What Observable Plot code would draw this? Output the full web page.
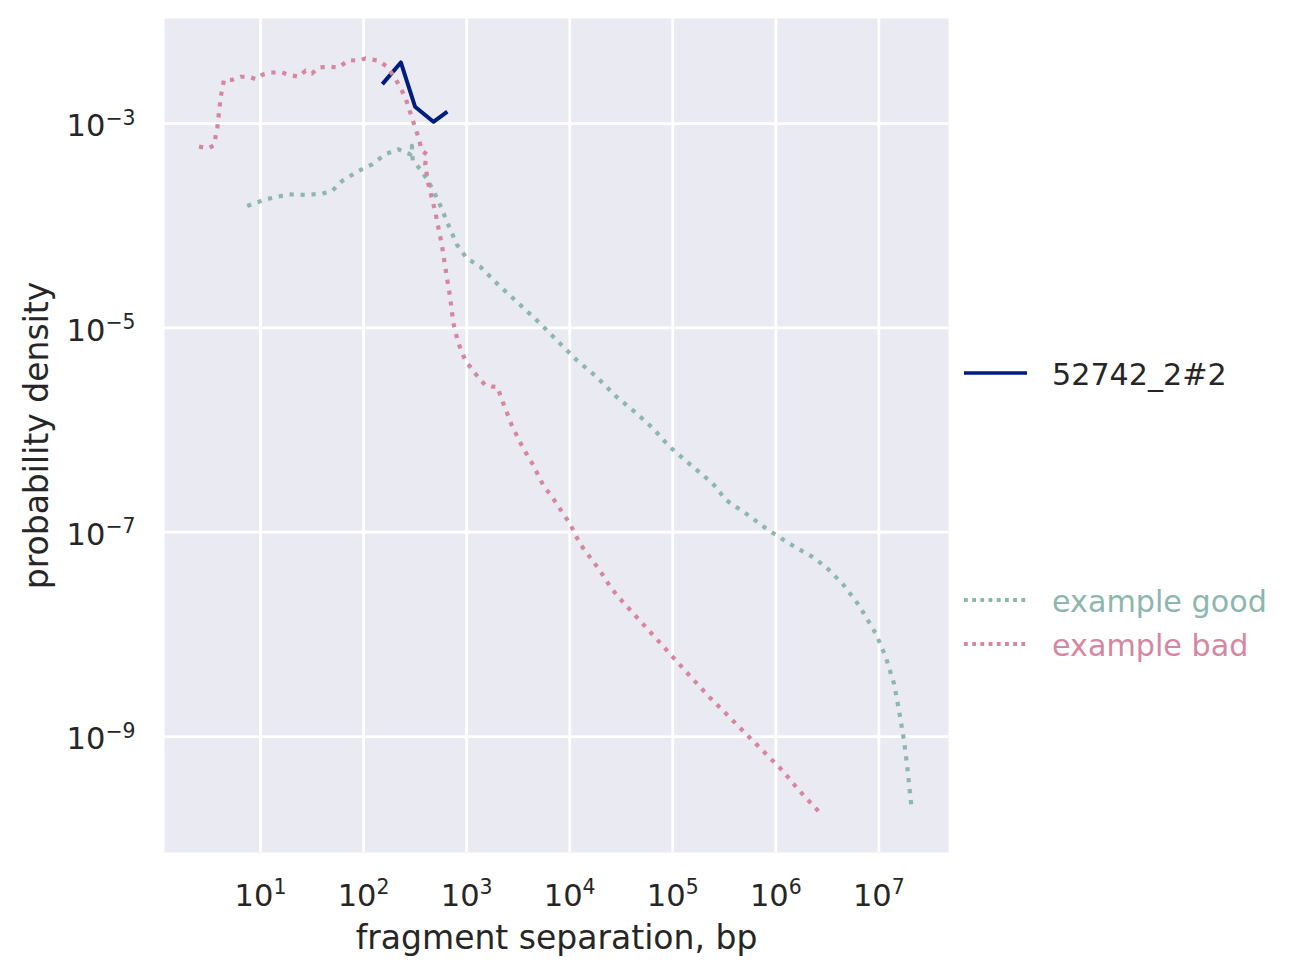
<!DOCTYPE html>
<html>
<head>
<meta charset="utf-8">
<script src="https://cdn.jsdelivr.net/npm/d3@7"></script>
<script src="https://cdn.jsdelivr.net/npm/@observablehq/plot@0.6"></script>
<style>
  body { margin: 0; background: #ffffff; font-family: "DejaVu Sans", sans-serif; }
  #wrap { position: relative; width: 1295px; height: 976px; }
</style>
</head>
<body>
<div id="wrap"></div>
<script>
// ---- data ----
const sampleX = [152, 230, 316, 476, 650];
const sampleY = [2.43e-3, 3.96e-3, 1.46e-3, 1.04e-3, 1.31e-3];

const goodX = [7.43, 11.2, 18.8, 27.3, 39.6, 49.4, 61.8, 89.5, 121, 162,
  218, 254, 285, 294, 300, 367, 459, 532, 641, 802,
  1002, 1349, 1954, 3055, 5140, 7450, 11640, 18200, 28380, 44360,
  64270, 93100, 156700, 244500, 329600, 515000, 803500, 1352000, 2270000, 3062000,
  4436000, 6427000, 9333000, 11670000, 14030000, 15700000, 17540000, 18880000, 20650000];
const goodY = [1.56e-4, 1.81e-4, 2.03e-4, 2.00e-4, 2.06e-4, 2.19e-4, 2.74e-4, 3.44e-4, 3.99e-4, 5.00e-4,
  5.60e-4, 5.20e-4, 5.0e-4, 6.04e-4, 4.31e-4, 3.44e-4, 2.36e-4, 1.75e-4, 1.11e-4, 6.56e-5,
  4.82e-5, 3.99e-5, 2.74e-5, 1.81e-5, 1.11e-5, 7.62e-6, 4.85e-6, 3.33e-6, 2.12e-6, 1.46e-6,
  1.04e-6, 6.86e-7, 4.37e-7, 3.00e-7, 2.06e-7, 1.52e-7, 1.09e-7, 7.74e-8, 5.73e-8, 4.57e-8,
  3.14e-8, 1.92e-8, 1.02e-8, 6.00e-9, 3.29e-9, 1.80e-9, 9.14e-10, 5.00e-10, 2.11e-10];

const badX = [2.53, 3.12, 3.53, 3.81, 4.10, 4.42, 5.32, 6.40, 7.71, 8.95,
  10.4, 12.5, 16.2, 18.8, 23.5, 27.3, 31.6, 36.7, 45.8, 57.3,
  71.6, 89.5, 104, 140, 169, 188, 218, 254, 294, 341,
  367, 411, 396, 426, 459, 494, 532, 574, 641, 690,
  743, 832, 966, 1205, 1507, 1750, 1983, 2265, 2735, 3540,
  4425, 5525, 6905, 8630, 10020, 12530, 15670, 19540, 25410, 32890,
  47750, 69200, 100300, 145500, 227000, 354800, 533000, 803500, 1164000, 1687000,
  2741000];
const badY = [5.95e-4, 5.73e-4, 6.12e-4, 9.14e-4, 1.80e-3, 2.68e-3, 2.68e-3, 2.87e-3, 2.87e-3, 2.72e-3,
  3.00e-3, 3.16e-3, 3.16e-3, 3.00e-3, 2.87e-3, 3.29e-3, 3.09e-3, 3.54e-3, 3.60e-3, 3.54e-3,
  4.18e-3, 4.12e-3, 4.34e-3, 4.12e-3, 3.60e-3, 3.09e-3, 2.43e-3, 1.80e-3, 1.15e-3, 7.29e-4,
  5.43e-4, 5.00e-4, 3.99e-4, 2.54e-4, 1.88e-4, 1.39e-4, 9.55e-5, 6.56e-5, 3.18e-5, 2.03e-5,
  1.11e-5, 7.08e-6, 4.85e-6, 3.60e-6, 2.76e-6, 2.66e-6, 2.66e-6, 1.83e-6, 1.12e-6, 6.62e-7,
  4.54e-7, 2.89e-7, 2.14e-7, 1.52e-7, 1.22e-7, 7.74e-8, 5.73e-8, 4.24e-8, 2.81e-8, 2.07e-8,
  1.37e-8, 9.08e-9, 6.00e-9, 3.96e-9, 2.43e-9, 1.55e-9, 1.02e-9, 6.76e-10, 4.64e-10, 2.96e-10,
  1.75e-10];

const seriesNames = ["52742_2#2", "example good", "example bad"];
const xTicks = [1e1, 1e2, 1e3, 1e4, 1e5, 1e6, 1e7];
const yTicks = [1e-3, 1e-5, 1e-7, 1e-9];
const xLabel = "fragment separation, bp";
const yLabel = "probability density";

// ---- styles ----
const colors = {"52742_2#2": "#001c7f", "example good": "#8db6ae", "example bad": "#d4879f"};
const dashes = {"52742_2#2": null, "example good": "4.2,6.8", "example bad": "4.2,6.8"};
const widths = {"52742_2#2": 4, "example good": 4.2, "example bad": 4.2};
const ink = "#262626";

const seriesData = {
  "52742_2#2": sampleX.map((x, i) => ({x, y: sampleY[i]})),
  "example good": goodX.map((x, i) => ({x, y: goodY[i]})),
  "example bad": badX.map((x, i) => ({x, y: badY[i]}))
};

const fmtExp = (d) => {
  const e = Math.round(Math.log10(d));
  return "10^" + (e < 0 ? "\u2212" + (-e) : String(e));
};

const drawOrder = ["52742_2#2", "example good", "example bad"];

const plot = Plot.plot({
  width: 1295,
  height: 976,
  marginLeft: 164,
  marginRight: 347,
  marginTop: 18,
  marginBottom: 124,
  style: {fontFamily: "DejaVu Sans", fontSize: "30.5px", color: ink, background: "transparent", overflow: "visible"},
  x: {type: "log", domain: [1.17, 4.74e7]},
  y: {type: "log", domain: [7.33e-11, 1.067e-2]},
  marks: [
    Plot.frame({fill: "#eaeaf2", stroke: "none"}),
    Plot.gridX(xTicks, {stroke: "#ffffff", strokeOpacity: 1, strokeWidth: 2.8}),
    Plot.gridY(yTicks, {stroke: "#ffffff", strokeOpacity: 1, strokeWidth: 2.8}),
    Plot.axisX(xTicks, {tickSize: 0, tickPadding: 32, tickFormat: fmtExp, label: null, fill: ink}),
    Plot.axisY(yTicks, {tickSize: 0, tickPadding: 29, dy: 3, tickFormat: fmtExp, label: null, fill: ink}),
    ...drawOrder.map(name => Plot.line(seriesData[name], {
      x: "x", y: "y",
      stroke: colors[name],
      strokeWidth: widths[name],
      strokeDasharray: dashes[name] || undefined,
      strokeLinecap: "butt",
      strokeLinejoin: "round"
    })),
    Plot.text([xLabel], {text: d => d, frameAnchor: "bottom", lineAnchor: "middle", textAnchor: "middle", dy: 86, fontSize: 33, fill: ink}),
    Plot.text([yLabel], {text: d => d, frameAnchor: "left", lineAnchor: "middle", textAnchor: "middle", dx: -127, rotate: -90, fontSize: 33, fill: ink})
  ]
});

// superscripts for the exponent tick labels
d3.select(plot).selectAll("text").each(function () {
  const t = this.textContent;
  if (!t.includes("^")) return;
  const [base, exp] = t.split("^");
  const sel = d3.select(this);
  sel.text(null);
  sel.append("tspan").text(base);
  sel.append("tspan").attr("dy", -11.7).attr("font-size", "0.67em").text(exp);
});

const wrap = document.getElementById("wrap");
wrap.appendChild(plot);

// ---- legend (right of the plot) ----
const legendRows = [
  {name: seriesNames[0], y: 373},
  {name: seriesNames[1], y: 600},
  {name: seriesNames[2], y: 644}
];
const legend = d3.create("svg")
  .attr("width", 1295).attr("height", 976)
  .style("position", "absolute").style("left", "0px").style("top", "0px")
  .style("pointer-events", "none");
legendRows.forEach(r => {
  legend.append("line")
    .attr("x1", 964).attr("x2", 1027).attr("y1", r.y).attr("y2", r.y)
    .attr("stroke", colors[r.name])
    .attr("stroke-width", dashes[r.name] ? 4 : 3.6)
    .attr("stroke-dasharray", dashes[r.name] ? "3.8,4.4" : null);
  legend.append("text")
    .attr("x", 1052).attr("y", r.y + 11.8)
    .attr("font-family", "DejaVu Sans").attr("font-size", 30.2)
    .attr("fill", r.name === seriesNames[0] ? ink : colors[r.name])
    .text(r.name);
});
wrap.appendChild(legend.node());
</script>
</body>
</html>
